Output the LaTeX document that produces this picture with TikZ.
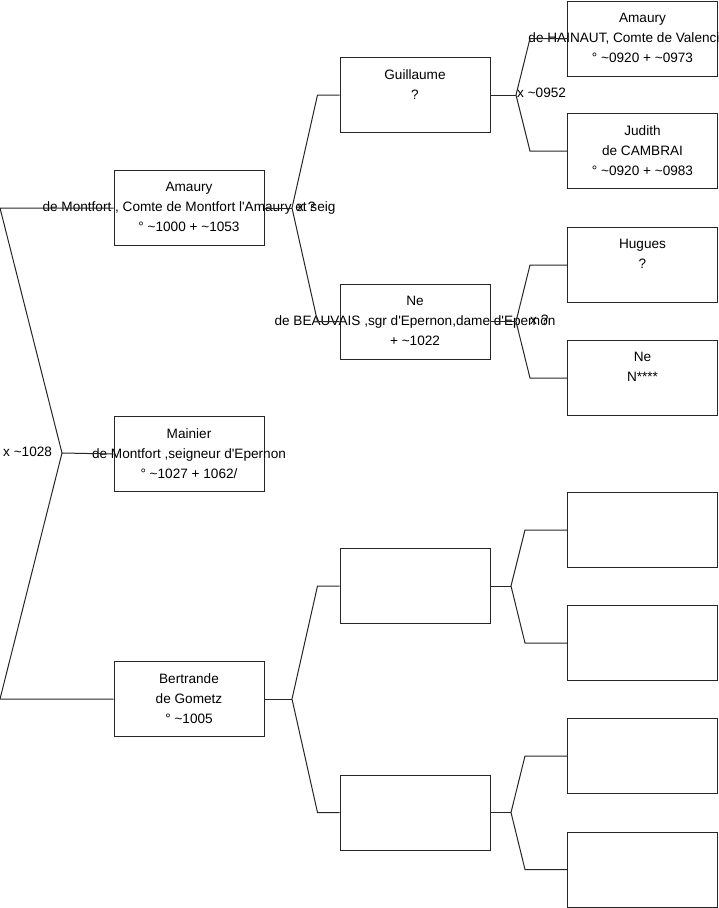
\documentclass[tikz,border=0pt]{standalone}
\usepackage{fontspec}
\setmainfont{Liberation Sans}
\newcommand\tld{\textasciitilde}
\newcommand\ap{\textquotesingle}
\begin{document}
\begin{tikzpicture}[x=1pt, y=-1pt, font=\fontsize{13.6}{20}\selectfont,
    box/.style={draw=black!85, line width=1pt, minimum width=150pt,
      minimum height=75pt, inner sep=0pt},
    who/.style={anchor=north, align=center, inner sep=0pt, yshift=-12pt},
    link/.style={draw=black!85, line width=1pt},
    wed/.style={anchor=west, inner sep=0pt}]
  \useasboundingbox (0,0) rectangle (719,908);
  \node[box] (amaury) at (189,208) {};
  \node[box] (mainier) at (189,454) {};
  \node[box] (bertrande) at (189,699) {};
  \node[box] (guillaume) at (415,95) {};
  \node[box] (ne) at (415,321.5) {};
  \node[box] (bgA) at (415,586) {};
  \node[box] (bgB) at (415,812.5) {};
  \node[box] (hainaut) at (642.5,38.5) {};
  \node[box] (judith) at (642.5,151) {};
  \node[box] (hugues) at (642.5,265) {};
  \node[box] (neN) at (642.5,378) {};
  \node[box] (bgAa) at (642.5,530) {};
  \node[box] (bgAb) at (642.5,643) {};
  \node[box] (bgBa) at (642.5,756) {};
  \node[box] (bgBb) at (642.5,869.5) {};
  \node[who] (amaury-t) at (amaury.north) {Amaury\\
    de Montfort , Comte de Montfort l\ap Amaury et seig\\
    ° \tld1000 + \tld1053};
  \node[who] (mainier-t) at (mainier.north) {Mainier\\
    de Montfort ,seigneur d\ap Epernon\\° \tld1027 + 1062/};
  \node[who] (bertrande-t) at (bertrande.north) {Bertrande\\
    de Gometz\\° \tld1005};
  \node[who] (guillaume-t) at (guillaume.north) {Guillaume\\?};
  \node[who] (ne-t) at (ne.north) {Ne\\
    de BEAUVAIS ,sgr d\ap Epernon,dame d\ap Epernon\\+ \tld1022};
  \node[who] (hainaut-t) at (hainaut.north) {Amaury\\
    de HAINAUT, Comte de Valenciennes\\° \tld0920 + \tld0973};
  \node[who] (judith-t) at (judith.north) {Judith\\
    de CAMBRAI\\° \tld0920 + \tld0983};
  \node[who] (hugues-t) at (hugues.north) {Hugues\\?};
  \node[who] (neN-t) at (neN.north) {Ne\\N****};
  \coordinate (root) at (62,453);
  \coordinate (rootA) at (0,208);
  \coordinate (rootB) at (0,699);
  \coordinate (fkA) at (292,208);
  \coordinate (fkB) at (292,699);
  \coordinate (fkG) at (516,95);
  \coordinate (fkN) at (516,321.5);
  \coordinate (fkBA) at (511,586);
  \coordinate (fkBB) at (511,812.5);
  \draw[link] (amaury.west) -- (rootA) -- (root) -- (rootB) -- (bertrande.west);
  \draw[link] (root) -- (mainier.west);
  \draw[link] (amaury.east) -- (fkA);
  \draw[link] (guillaume.west) -- ++(-22,0) -- (fkA) -- ([xshift=-22pt]ne.west) -- (ne.west);
  \draw[link] (bertrande.east) -- (fkB);
  \draw[link] (bgA.west) -- ++(-22,0) -- (fkB) -- ([xshift=-22pt]bgB.west) -- (bgB.west);
  \draw[link] (guillaume.east) -- (fkG);
  \draw[link] (hainaut.west) -- ++(-37,0) -- (fkG) -- ([xshift=-37pt]judith.west) -- (judith.west);
  \draw[link] (ne.east) -- (fkN);
  \draw[link] (hugues.west) -- ++(-37,0) -- (fkN) -- ([xshift=-37pt]neN.west) -- (neN.west);
  \draw[link] (bgA.east) -- (fkBA);
  \draw[link] (bgAa.west) -- ++(-42,0) -- (fkBA) -- ([xshift=-42pt]bgAb.west) -- (bgAb.west);
  \draw[link] (bgB.east) -- (fkBB);
  \draw[link] (bgBa.west) -- ++(-42,0) -- (fkBB) -- ([xshift=-42pt]bgBb.west) -- (bgBb.west);
  \node[wed] (wedR) at (3,452) {x \tld1028};
  \node[wed] (wedA) at (297,207) {x ?};
  \node[wed] (wedG) at (517,93) {x \tld0952};
  \node[wed] (wedN) at (530,320) {x ?};
\end{tikzpicture}
\end{document}
